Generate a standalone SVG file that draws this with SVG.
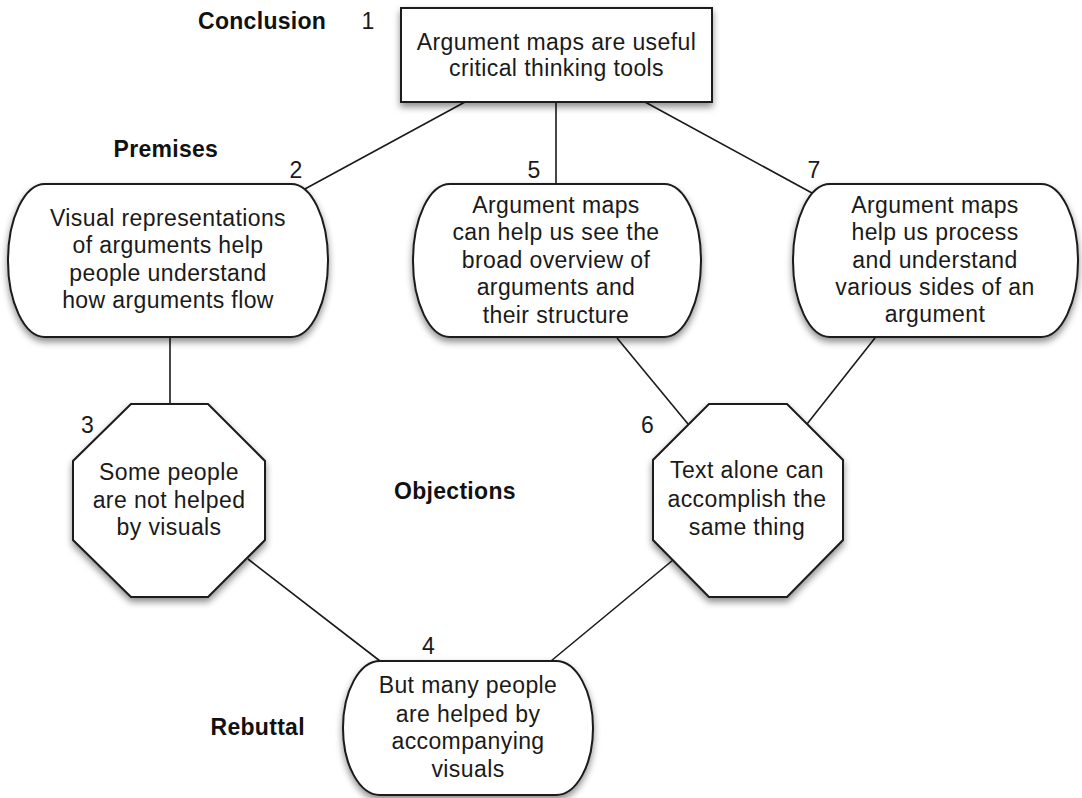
<svg xmlns="http://www.w3.org/2000/svg" width="1082" height="798" viewBox="0 0 1082 798">
<defs>
<filter id="sh" x="-10%" y="-10%" width="120%" height="130%">
<feDropShadow dx="0" dy="4" stdDeviation="3.5" flood-color="#000" flood-opacity="0.45"/>
</filter>
<style>
.node{fill:#fff;stroke:#1a1a1a;stroke-width:2;filter:url(#sh)}
.t{font-family:"Liberation Sans",Arial,Helvetica,sans-serif;font-size:23px;letter-spacing:0.4px;fill:#1a1a1a;text-anchor:middle}
.n{font-family:"Liberation Sans",Arial,Helvetica,sans-serif;font-size:23px;fill:#1a1a1a;text-anchor:middle}
.b{font-family:"Liberation Sans",Arial,Helvetica,sans-serif;font-size:23px;font-weight:bold;letter-spacing:0.3px;fill:#111}
.c{stroke:#1a1a1a;stroke-width:1.6;fill:none}
</style>
</defs>
<rect width="1082" height="798" fill="#fff"/>
<g id="connectors">
<line class="c" x1="465" y1="102" x2="303" y2="190"/>
<line class="c" x1="556" y1="102" x2="556" y2="184"/>
<line class="c" x1="645" y1="102" x2="812" y2="193"/>
<line class="c" x1="170" y1="337" x2="170" y2="404"/>
<line class="c" x1="617" y1="338" x2="688" y2="424"/>
<line class="c" x1="875" y1="338" x2="807" y2="424"/>
<line class="c" x1="248" y1="559" x2="380" y2="661"/>
<line class="c" x1="673" y1="560" x2="551" y2="661"/>
</g>
<g id="labels">
<text class="b" x="198" y="29">Conclusion</text>
<text class="b" x="113.5" y="157">Premises</text>
<text class="b" x="394" y="499">Objections</text>
<text class="b" x="210.5" y="735">Rebuttal</text>
<text class="n" x="368" y="29">1</text>
<text class="n" x="296" y="178">2</text>
<text class="n" x="534" y="178">5</text>
<text class="n" x="814" y="178">7</text>
<text class="n" x="87.5" y="433">3</text>
<text class="n" x="647.5" y="433">6</text>
<text class="n" x="428.5" y="654">4</text>
</g>
<g id="node1">
<rect class="node" x="401" y="8" width="311" height="94"/>
<text class="t" x="556.5" y="50">Argument maps are useful</text>
<text class="t" x="556.5" y="76">critical thinking tools</text>
</g>
<g id="node2">
<rect class="node" x="8" y="184" width="320" height="153" rx="37" ry="76.5"/>
<text class="t" x="168" y="226">Visual representations</text>
<text class="t" x="168" y="253">of arguments help</text>
<text class="t" x="168" y="281">people understand</text>
<text class="t" x="168" y="308">how arguments flow</text>
</g>
<g id="node5">
<rect class="node" x="413" y="184" width="288" height="153" rx="37" ry="76.5"/>
<text class="t" x="556" y="213">Argument maps</text>
<text class="t" x="556" y="240">can help us see the</text>
<text class="t" x="556" y="268">broad overview of</text>
<text class="t" x="556" y="295">arguments and</text>
<text class="t" x="556" y="323">their structure</text>
</g>
<g id="node7">
<rect class="node" x="793" y="184" width="285" height="153" rx="37" ry="76.5"/>
<text class="t" x="935" y="213">Argument maps</text>
<text class="t" x="935" y="240">help us process</text>
<text class="t" x="935" y="268">and understand</text>
<text class="t" x="935" y="295">various sides of an</text>
<text class="t" x="935" y="322">argument</text>
</g>
<g id="node3">
<polygon class="node" points="131,404 208,404 265,461 265,540 208,597 131,597 73,540 73,461"/>
<text class="t" x="169" y="480">Some people</text>
<text class="t" x="169" y="508">are not helped</text>
<text class="t" x="169" y="535">by visuals</text>
</g>
<g id="node6">
<polygon class="node" points="709,404 787,404 843,460 843,540 787,597 709,597 653,540 653,460"/>
<text class="t" x="747" y="478">Text alone can</text>
<text class="t" x="747" y="507">accomplish the</text>
<text class="t" x="747" y="535">same thing</text>
</g>
<g id="node4">
<rect class="node" x="343" y="661" width="250" height="134" rx="37" ry="67"/>
<text class="t" x="468" y="693">But many people</text>
<text class="t" x="468" y="722">are helped by</text>
<text class="t" x="468" y="749">accompanying</text>
<text class="t" x="468" y="777">visuals</text>
</g>
</svg>
